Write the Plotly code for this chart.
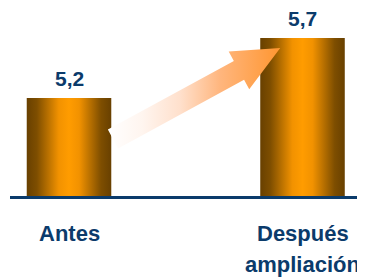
import plotly.graph_objects as go
import numpy as np

# ---- data ----
categories = ["Antes", "Después<br>ampliación"]
values = [5.2, 5.7]
value_labels = ["5,2", "5,7"]

# ---- style ----
NAVY = "#0B3B6B"
FONT = "Liberation Sans, Arial, sans-serif"
OFF = 8  # default page body margin
W, H = 365 - OFF, 280 - OFF
ML, MR, MT, MB = 2, 3, 0, 84
X_RANGE = [-0.2527, 1.2548]
Y_RANGE = [4.383, 5.950]
BAR_W = 0.362
BAR_SCALE = [[0.0, "#684000"], [0.12, "#7E4E00"], [0.38, "#F29200"],
             [0.5, "#FF9C00"], [0.62, "#F29200"], [0.88, "#7E4E00"], [1.0, "#684000"]]
ARROW_SCALE = [[0.0, "#FFFFFF"], [0.2, "#FFF5EF"], [0.42, "#FFE0CC"],
               [0.65, "#FFB67E"], [1.0, "#FF9630"]]
CAT_FS = 22
CAT_LINE_GAP = 31      # px between label lines
CAT_FIRST_SHIFT = -23  # px from axis to first line box top

PW, PH = W - ML - MR, H - MT - MB
sx = PW / (X_RANGE[1] - X_RANGE[0])
sy = PH / (Y_RANGE[1] - Y_RANGE[0])


def to_px(x, y):
    return np.array([ML + (x - X_RANGE[0]) * sx, MT + (Y_RANGE[1] - y) * sy])


def to_data(p):
    return (X_RANGE[0] + (p[0] - ML) / sx, Y_RANGE[1] - (p[1] - MT) / sy)


xs = list(range(len(categories)))
fig = go.Figure()

# bars with horizontal gradient
for xi, v in zip(xs, values):
    x0, x1 = xi - BAR_W / 2, xi + BAR_W / 2
    fig.add_trace(go.Scatter(
        x=[x0, x1, x1, x0, x0], y=[Y_RANGE[0], Y_RANGE[0], v, v, Y_RANGE[0]],
        mode="lines", line=dict(width=0), fill="toself",
        fillgradient=dict(type="horizontal", colorscale=BAR_SCALE),
        hoverinfo="skip", showlegend=False))

# arrow from first bar to second bar (geometry in pixel space)
tail = to_px(xs[0] + BAR_W / 2, values[0]) + np.array([1.7, 41.0])
tip = to_px(xs[1] - BAR_W / 2, values[1]) + np.array([20.0, 10.0])
u = (tip - tail) / np.linalg.norm(tip - tail)
n = np.array([-u[1], u[0]])
hs, hh, hl = 10.7, 21.5, 47.0
neck = tip - hl * u
pts = [tail - hs * n, neck - hs * n, neck - hh * n, tip,
       neck + hh * n, neck + hs * n, tail + hs * n, tail - hs * n]
ax_, ay_ = zip(*[to_data(p) for p in pts])
fig.add_trace(go.Scatter(
    x=list(ax_), y=list(ay_), mode="lines", line=dict(width=0), fill="toself",
    fillgradient=dict(type="horizontal", colorscale=ARROW_SCALE),
    hoverinfo="skip", showlegend=False))

# value labels
for xi, v, lab in zip(xs, values, value_labels):
    fig.add_annotation(x=xi, y=v, text=lab, showarrow=False, yanchor="bottom",
                       yshift=6, font=dict(family=FONT, size=21, color=NAVY, weight="bold"))

# category labels (one annotation per line for wider line spacing)
for xi, cat in zip(xs, categories):
    for k, line in enumerate(cat.split("<br>")):
        fig.add_annotation(x=xi, y=0, xref="x", yref="paper", text=line,
                           showarrow=False, yanchor="top",
                           yshift=CAT_FIRST_SHIFT - k * CAT_LINE_GAP,
                           font=dict(family=FONT, size=CAT_FS, color=NAVY, weight="bold"))

fig.update_layout(
    width=W, height=H, margin=dict(l=ML, r=MR, t=MT, b=MB),
    paper_bgcolor="white", plot_bgcolor="white",
    xaxis=dict(range=X_RANGE, tickvals=xs, showticklabels=False, showline=True,
               linecolor=NAVY, linewidth=3, showgrid=False, zeroline=False,
               ticks="", fixedrange=True),
    yaxis=dict(range=Y_RANGE, visible=False, showgrid=False, zeroline=False, fixedrange=True),
)

fig.write_html("out.html")
